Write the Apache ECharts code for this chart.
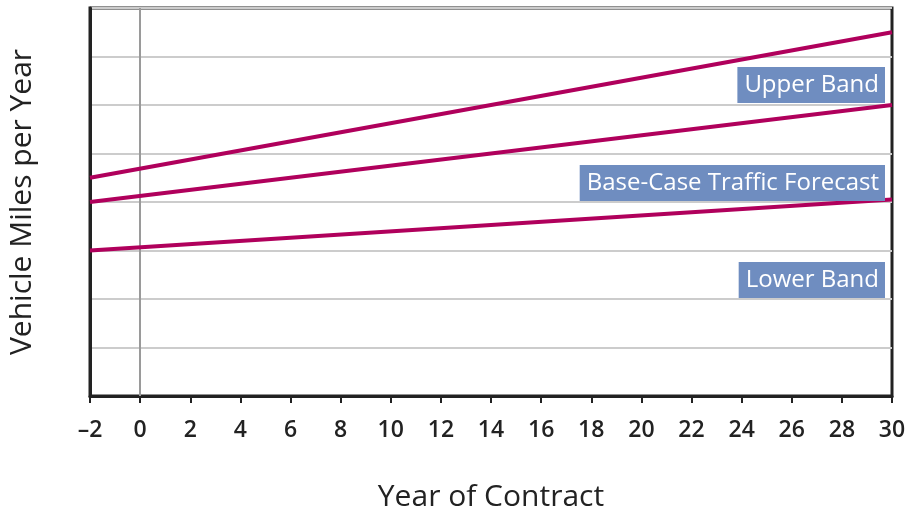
<!DOCTYPE html>
<html>
<head>
<meta charset="utf-8">
<script src="https://cdn.jsdelivr.net/npm/echarts@6/dist/echarts.min.js"></script>
<style>html,body{margin:0;padding:0;background:#fff}#c{width:915px;height:512px}</style>
</head>
<body>
<div id="c"></div>
<script>
const years = [-2, 30];
const upperBand = [4.5, 7.5];
const baseCase = [4.0, 6.0];
const lowerBand = [3.0, 4.05];
const xTicks = {min: -2, max: 30, interval: 2};
const seriesNames = ['Upper Band', 'Base-Case Traffic Forecast', 'Lower Band'];

const FONT = '"Open Sans", "Noto Sans", sans-serif';
const lineColor = '#b0005c';
const chart = echarts.init(document.getElementById('c'));
function pairs(vals){ return years.map((x,i)=>[x, vals[i]]); }
const option = {
  animation: false,
  grid: {left: 90, right: 23, top: 8, bottom: 116, show: true, borderColor: '#222', borderWidth: 3,
    containLabel: false, outerBoundsMode: 'none'},
  xAxis: {
    type: 'value', min: xTicks.min, max: xTicks.max, interval: xTicks.interval,
    name: 'Year of Contract', nameLocation: 'middle', nameGap: 86,
    nameTextStyle: {fontFamily: FONT, fontSize: 30, color: '#222'},
    axisLine: {show: true, onZero: false, lineStyle: {color: '#222', width: 3}},
    axisTick: {show: true, length: 7, lineStyle: {color: '#222', width: 2}},
    axisLabel: {fontFamily: FONT, fontSize: 23, fontWeight: 600, color: '#222', margin: 23,
      formatter: v => String(v).replace('-', '\u2013')},
    splitLine: {show: false}
  },
  yAxis: {
    type: 'value', min: 0, max: 8, interval: 1,
    name: 'Vehicle Miles per Year', nameLocation: 'middle', nameGap: 53,
    nameTextStyle: {fontFamily: FONT, fontSize: 30, color: '#222'},
    axisLine: {show: true, onZero: false, lineStyle: {color: '#222', width: 3}},
    axisTick: {show: false},
    axisLabel: {show: false},
    splitLine: {show: true, lineStyle: {color: '#cccccc', width: 2}}
  },
  series: [
    {name: seriesNames[0], type: 'line', data: pairs(upperBand), symbol: 'none', lineStyle: {color: lineColor, width: 4}, z: 5,
     markLine: {silent: true, symbol: 'none', label: {show: false}, lineStyle: {color: '#9a9a9a', width: 2, type: 'solid', opacity: 1}, data: [{xAxis: 0}], z: 1}},
    {name: seriesNames[1], type: 'line', data: pairs(baseCase), symbol: 'none', lineStyle: {color: lineColor, width: 4}, z: 5},
    {name: seriesNames[2], type: 'line', data: pairs(lowerBand), symbol: 'none', lineStyle: {color: lineColor, width: 4}, z: 5}
  ]
};
chart.setOption(option);

function boxLabel(text, yTop) {
  return {
    type: 'text', right: 915 - 885, top: yTop, z: 10,
    style: {text: text, fontFamily: FONT, fontSize: 24, fill: '#fff', backgroundColor: '#6f8dc0',
      padding: [4, 6, 3, 7], lineHeight: 29}
  };
}
chart.setOption({graphic: [
  boxLabel(seriesNames[0], 67),
  boxLabel(seriesNames[1], 165),
  boxLabel(seriesNames[2], 262)
]});
</script>
</body>
</html>
